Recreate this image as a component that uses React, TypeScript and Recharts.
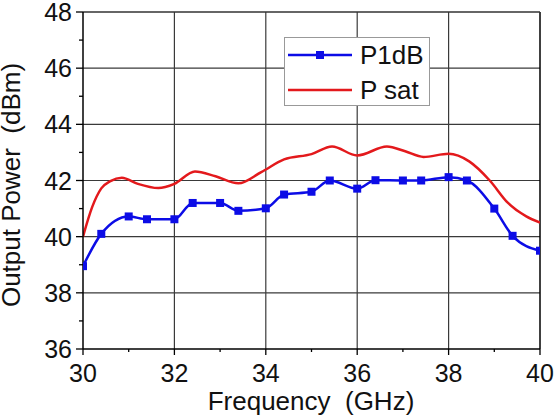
import React from "react";
import {
  Legend,
  Line,
  LineChart,
  ReferenceLine,
  XAxis,
  YAxis,
} from "recharts";

const FONT = "'Liberation Sans', Arial, Helvetica, sans-serif";
const BLUE = "#0c0ce6";
const RED = "#e3191c";

// P1dB measured points (GHz, dBm)
const p1dbFreq = [30, 30.4, 31, 31.4, 32, 32.4, 33, 33.4, 34, 34.4, 35, 35.4, 36, 36.4, 37, 37.4, 38, 38.4, 39, 39.4, 40];
const p1dbValues = [38.95, 40.1, 40.72, 40.62, 40.62, 41.2, 41.2, 40.92, 41.01, 41.5, 41.6, 42.0, 41.71, 42.01, 42.0, 42.0, 42.12, 42.0, 41.0, 40.03, 39.5];

// P sat curve
const psatFreq = [30, 30.2, 30.4, 30.6, 30.85, 31.2, 31.65, 32, 32.45, 32.9, 33.4, 33.9, 34.4, 35, 35.45, 36, 36.65, 37.05, 37.45, 38, 38.45, 38.9, 39.3, 39.7, 40];
const psatValues = [40.0, 41.05, 41.72, 41.98, 42.1, 41.88, 41.73, 41.88, 42.32, 42.15, 41.9, 42.3, 42.75, 42.94, 43.21, 42.89, 43.21, 43.04, 42.84, 42.95, 42.68, 42.0, 41.2, 40.72, 40.5];

const xTicks = [30, 31, 32, 33, 34, 35, 36, 37, 38, 39, 40];
const yTicks = [36, 37, 38, 39, 40, 41, 42, 43, 44, 45, 46, 47, 48];
const xGrid = [32, 34, 36, 38];
const yGrid = [38, 40, 42, 44, 46];

const p1dbData = p1dbFreq.map((f, i) => ({ freq: f, p1db: p1dbValues[i] }));
const psatData = psatFreq.map((f, i) => ({ freq: f, psat: psatValues[i] }));

const XTick = (props: any) => {
  const { x, y, payload } = props;
  const major = payload.value % 2 === 0;
  return (
    <g>
      <line x1={x} x2={x} y1={y} y2={y + (major ? 6 : 3)} stroke="#000" strokeWidth={1.3} />
      {major && (
        <text x={x} y={y + 33} textAnchor="middle" fontSize={25} fontFamily={FONT} fill="#111">
          {payload.value}
        </text>
      )}
    </g>
  );
};

const YTick = (props: any) => {
  const { x, y, payload } = props;
  const major = payload.value % 2 === 0;
  return (
    <g>
      <line x1={x} x2={x - (major ? 7 : 4)} y1={y} y2={y} stroke="#000" strokeWidth={1.3} />
      {major && (
        <text x={x - 11} y={y} dy="0.36em" textAnchor="end" fontSize={25} fontFamily={FONT} fill="#111">
          {payload.value}
        </text>
      )}
    </g>
  );
};

const LegendBox = () => (
  <div
    style={{
      width: 146,
      height: 69,
      boxSizing: "border-box",
      border: "1px solid #999",
      background: "#fff",
      fontFamily: FONT,
      fontSize: 26,
      color: "#111",
      position: "relative",
    }}
  >
    <svg width={146} height={69} style={{ position: "absolute", left: -1, top: -1 }}>
      <line x1={4} x2={68} y1={18} y2={18} stroke={BLUE} strokeWidth={2.5} />
      <rect x={32} y={14} width={8} height={8} fill={BLUE} />
      <line x1={4} x2={68} y1={53} y2={53} stroke={RED} strokeWidth={2.5} />
      <text x={76} y={18} dy="0.36em" fontSize={26} fontFamily={FONT} fill="#111">P1dB</text>
      <text x={76} y={53} dy="0.36em" fontSize={26} fontFamily={FONT} fill="#111">P sat</text>
    </svg>
  </div>
);

const SquareDot = (props: any) => {
  const { cx, cy } = props;
  if (cx == null || cy == null) return null;
  return <rect x={cx - 4} y={cy - 4} width={8} height={8} fill={BLUE} />;
};

export default function App() {
  return (
    <div style={{ position: "absolute", left: 0, top: 0, background: "#fff" }}>
      <LineChart width={554} height={418} margin={{ top: 12, right: 14, bottom: 0, left: 0 }}>
        <XAxis
          dataKey="freq"
          type="number"
          domain={[30, 40]}
          ticks={xTicks}
          interval={0}
          height={69}
          tickSize={0}
          tickMargin={0}
          tickLine={false}
          axisLine={{ stroke: "#000", strokeWidth: 1.5 }}
          tick={<XTick />}
          label={(p: any) => (
            <text
              x={311}
              y={410}
              textAnchor="middle"
              fontSize={26}
              fontFamily={FONT}
              fill="#111"
              style={{ whiteSpace: "pre" }}
            >
              {"Frequency  (GHz)"}
            </text>
          )}
          allowDataOverflow
        />
        <YAxis
          type="number"
          domain={[36, 48]}
          ticks={yTicks}
          interval={0}
          width={83}
          tickSize={0}
          tickMargin={0}
          tickLine={false}
          axisLine={{ stroke: "#000", strokeWidth: 1.5 }}
          tick={<YTick />}
          label={(p: any) => (
            <text
              x={20}
              y={185}
              transform="rotate(-90, 20, 185)"
              textAnchor="middle"
              fontSize={26}
              fontFamily={FONT}
              fill="#111"
              style={{ whiteSpace: "pre" }}
            >
              {"Output Power  (dBm)"}
            </text>
          )}
          allowDataOverflow
        />
        {xGrid.map((v) => (
          <ReferenceLine key={`xg-${v}`} x={v} stroke="#3a3a3a" strokeWidth={1.2} />
        ))}
        {yGrid.map((v) => (
          <ReferenceLine key={`yg-${v}`} y={v} stroke="#3a3a3a" strokeWidth={1.2} />
        ))}
        <ReferenceLine x={40} stroke="#000" strokeWidth={1.5} />
        <ReferenceLine y={48} stroke="#333" strokeWidth={1.5} />
        <Line
          data={psatData}
          dataKey="psat"
          type="monotone"
          stroke={RED}
          strokeWidth={2.5}
          dot={false}
          activeDot={false}
          isAnimationActive={false}
        />
        <Line
          data={p1dbData}
          dataKey="p1db"
          type="monotone"
          stroke={BLUE}
          strokeWidth={2.5}
          dot={<SquareDot />}
          activeDot={false}
          isAnimationActive={false}
        />
        <Legend
          layout="vertical"
          align="center"
          verticalAlign="middle"
          content={<LegendBox />}
          wrapperStyle={{ left: 284, top: 37, width: 146, height: 69 }}
        />
      </LineChart>
    </div>
  );
}
